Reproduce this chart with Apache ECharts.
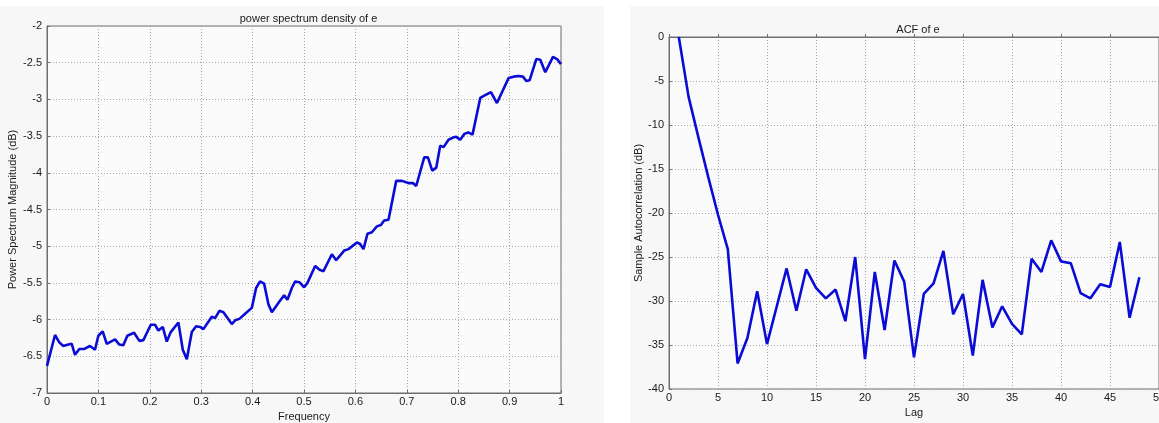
<!DOCTYPE html>
<html>
<head>
<meta charset="utf-8">
<title>power spectrum density of e / ACF of e</title>
<script src="https://cdn.jsdelivr.net/npm/echarts@6/dist/echarts.min.js"></script>
<style>
  html, body { margin: 0; padding: 0; background: #ffffff; }
  #chart { width: 1159px; height: 423px; }
</style>
</head>
<body>
<div id="chart"></div>
<script>
// Power spectrum density of the residual e (frequency, dB)
const psdFreq = [
  0.000, 0.0156, 0.0239, 0.0317, 0.0415, 0.0481, 0.0545, 0.0629, 0.0726, 0.0837,
  0.0934, 0.0999, 0.1084, 0.1162, 0.1324, 0.1407, 0.1485, 0.1563, 0.1694, 0.1797,
  0.1875, 0.2019, 0.2102, 0.2167, 0.2252, 0.2330, 0.2408, 0.2556, 0.2642, 0.2720,
  0.2817, 0.2901, 0.2978, 0.3043, 0.3206, 0.3270, 0.3354, 0.3432, 0.3595, 0.3660,
  0.3743, 0.3854, 0.3985, 0.4068, 0.4146, 0.4224, 0.4308, 0.4374, 0.4536, 0.4614,
  0.4678, 0.4763, 0.4828, 0.4911, 0.5003, 0.5067, 0.5217, 0.5301, 0.5379, 0.5542,
  0.5626, 0.5782, 0.5865, 0.6029, 0.6093, 0.6157, 0.6235, 0.6321, 0.6418, 0.6496,
  0.6560, 0.6644, 0.6794, 0.6905, 0.7033, 0.7119, 0.7183, 0.7339, 0.7411, 0.7495,
  0.7573, 0.7650, 0.7715, 0.7812, 0.7898, 0.7962, 0.8040, 0.8118, 0.8196, 0.8279,
  0.8429, 0.8507, 0.8637, 0.8754, 0.8980, 0.9077, 0.9175, 0.9260, 0.9325, 0.9389,
  0.9519, 0.9597, 0.9694, 0.9844, 0.9922, 1.0000
];
const psdDb = [
  -6.63, -6.21, -6.31, -6.36, -6.34, -6.33, -6.48, -6.40, -6.40, -6.36,
  -6.41, -6.22, -6.16, -6.33, -6.27, -6.34, -6.35, -6.22, -6.18, -6.29,
  -6.28, -6.07, -6.07, -6.15, -6.10, -6.30, -6.17, -6.04, -6.41, -6.54,
  -6.17, -6.09, -6.10, -6.13, -5.96, -5.98, -5.88, -5.90, -6.06, -6.01,
  -5.99, -5.92, -5.84, -5.57, -5.48, -5.51, -5.79, -5.90, -5.74, -5.67,
  -5.73, -5.57, -5.48, -5.49, -5.56, -5.50, -5.27, -5.32, -5.34, -5.11,
  -5.19, -5.06, -5.04, -4.95, -4.97, -5.04, -4.83, -4.81, -4.73, -4.71,
  -4.65, -4.64, -4.11, -4.11, -4.14, -4.14, -4.18, -3.79, -3.79, -3.97,
  -3.93, -3.63, -3.65, -3.55, -3.52, -3.51, -3.55, -3.47, -3.45, -3.48,
  -2.98, -2.95, -2.90, -3.05, -2.71, -2.69, -2.68, -2.69, -2.75, -2.74,
  -2.45, -2.46, -2.63, -2.42, -2.45, -2.52
];

// Sample autocorrelation of e (dB) for lags 1..48
const acfLag = [
   1,  2,  3,  4,  5,  6,  7,  8,  9, 10, 11, 12, 13, 14, 15, 16,
  17, 18, 19, 20, 21, 22, 23, 24, 25, 26, 27, 28, 29, 30, 31, 32,
  33, 34, 35, 36, 37, 38, 39, 40, 41, 42, 43, 44, 45, 46, 47, 48
];
const acfDb = [
    0.0,  -6.8, -11.4, -15.9, -20.2, -24.1, -37.1, -34.2, -28.9, -34.9, -30.6, -26.3,
  -31.1, -26.4, -28.5, -29.7, -28.7, -32.3, -25.0, -36.6, -26.7, -33.3, -25.4, -27.8,
  -36.4, -29.2, -28.0, -24.3, -31.5, -29.2, -36.2, -27.6, -33.0, -30.6, -32.6, -33.8,
  -25.2, -26.7, -23.1, -25.5, -25.7, -29.1, -29.7, -28.1, -28.4, -23.3, -31.9, -27.3
];

const FONT = '"Liberation Sans", Arial, sans-serif';
const TEXT = '#1a1a1a';
const LINE = '#0b0bd6';

const chart = echarts.init(document.getElementById('chart'), null, { renderer: 'canvas' });

function valueAxis(extra) {
  return Object.assign({
    type: 'value',
    nameLocation: 'middle',
    nameTextStyle: { fontFamily: FONT, fontSize: 11, color: TEXT },
    axisLine: { show: true, lineStyle: { color: '#6e6e6e', width: 1 } },
    axisTick: { show: true, inside: true, length: 3, lineStyle: { color: '#6e6e6e' } },
    axisLabel: { fontFamily: FONT, fontSize: 11, color: TEXT, margin: 5 },
    splitLine: { show: true, lineStyle: { color: '#a8a8a8', type: [1, 2], width: 1 } }
  }, extra);
}

const option = {
  backgroundColor: '#ffffff',
  animation: false,
  graphic: [
    { type: 'rect', silent: true, z: -10, shape: { x: 0, y: 6, width: 604, height: 417 }, style: { fill: '#f7f7f7' } },
    { type: 'rect', silent: true, z: -10, shape: { x: 630, y: 6, width: 529, height: 417 }, style: { fill: '#f7f7f7' } }
  ],
  title: [
    {
      text: 'power spectrum density of e',
      left: 303.5, top: 8, textAlign: 'center',
      textStyle: { fontFamily: FONT, fontSize: 11, fontWeight: 'normal', color: TEXT }
    },
    {
      text: 'ACF of e',
      left: 913, top: 19, textAlign: 'center',
      textStyle: { fontFamily: FONT, fontSize: 11, fontWeight: 'normal', color: TEXT }
    }
  ],
  grid: [
    { left: 47, top: 26, width: 514, height: 367, outerBoundsMode: 'none', containLabel: false,
      show: true, backgroundColor: '#fafafa', borderColor: '#6e6e6e', borderWidth: 1 },
    { left: 669, top: 37, width: 490, height: 352, outerBoundsMode: 'none', containLabel: false,
      show: true, backgroundColor: '#fafafa', borderColor: '#6e6e6e', borderWidth: 1 }
  ],
  xAxis: [
    valueAxis({ gridIndex: 0, min: 0, max: 1, interval: 0.1, name: 'Frequency', nameGap: 14,
      axisLabel: { fontFamily: FONT, fontSize: 11, color: TEXT, margin: 3 } }),
    valueAxis({ gridIndex: 1, min: 0, max: 50, interval: 5, name: 'Lag', nameGap: 13,
      axisLabel: { fontFamily: FONT, fontSize: 11, color: TEXT, margin: 3 } })
  ],
  yAxis: [
    valueAxis({ gridIndex: 0, min: -7, max: -2, interval: 0.5, name: 'Power Spectrum Magnitude (dB)', nameGap: 29 }),
    valueAxis({ gridIndex: 1, min: -40, max: 0, interval: 5, name: 'Sample Autocorrelation (dB)', nameGap: 25 })
  ],
  series: [
    {
      type: 'line', xAxisIndex: 0, yAxisIndex: 0,
      data: psdFreq.map((f, i) => [f, psdDb[i]]),
      showSymbol: false, clip: true,
      lineStyle: { color: LINE, width: 2.6 }
    },
    {
      type: 'line', xAxisIndex: 1, yAxisIndex: 1,
      data: acfLag.map((k, i) => [k, acfDb[i]]),
      showSymbol: false, clip: true,
      lineStyle: { color: LINE, width: 2.6 }
    }
  ]
};

chart.setOption(option);
</script>
</body>
</html>
